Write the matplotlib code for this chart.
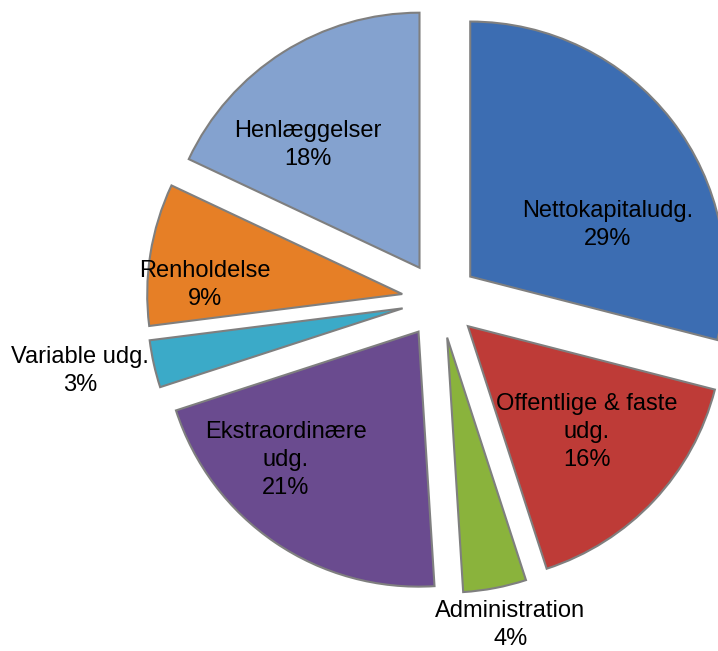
import matplotlib
matplotlib.use("Agg")
import matplotlib.pyplot as plt
import numpy as np

categories = ["Nettokapitaludg.", "Offentlige & faste\nudg.", "Administration",
              "Ekstraordinære\nudg.", "Variable udg.", "Renholdelse", "Henlæggelser"]
values = [29, 16, 4, 21, 3, 9, 18]
colors = ["#3C6DB2", "#BE3B37", "#8AB33C", "#6A4B8F", "#3BAAC8", "#E67F26", "#84A2CF"]

# label anchor positions relative to pie centre, in units of radius
label_pos = [(0.659, 0.294), (0.576, -0.518), (0.275, -1.275), (-0.604, -0.627),
             (-1.412, -0.278), (-0.922, 0.059), (-0.518, 0.608)]

plt.rcParams['font.family'] = ['Liberation Sans', 'DejaVu Sans']

W, H = 718, 651
fig = plt.figure(figsize=(W / 100, H / 100), dpi=100)
ax = fig.add_axes([0, 0, 1, 1])

R = 255
cx, cy = 440, H - 300
wedges, _ = ax.pie(values, colors=colors, startangle=90, counterclock=False,
                   radius=R, center=(cx, cy), explode=[0.15 * R] * len(values),
                   wedgeprops=dict(edgecolor="#7f7f7f", linewidth=1.5),
                   frame=True)
ax.set_xlim(0, W)
ax.set_ylim(0, H)
ax.axis('off')

for cat, v, (dx, dy) in zip(categories, values, label_pos):
    ax.text(cx + dx * R, cy + dy * R, f"{cat}\n{v}%", ha='center', va='center',
            fontsize=17, linespacing=1.35, color='black')

fig.savefig("out.png", dpi=100)
